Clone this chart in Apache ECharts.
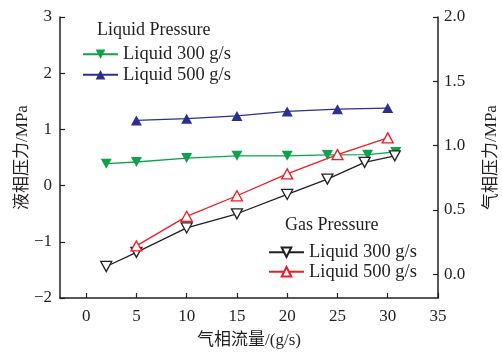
<!DOCTYPE html>
<html>
<head>
<meta charset="utf-8">
<script src="https://cdn.jsdelivr.net/npm/echarts@6/dist/echarts.min.js"></script>
<style>html,body{margin:0;padding:0;background:#fff}#c{width:502px;height:354px}</style>
</head>
<body>
<div id="c"></div>
<script>
// Liquid pressure (left axis, MPa)
const liq300X = [2, 5, 10, 15, 20, 24, 28, 30.8];
const liq300Y = [0.39, 0.42, 0.49, 0.53, 0.53, 0.545, 0.55, 0.60];
const liq500X = [5, 10, 15, 20, 25, 30];
const liq500Y = [1.16, 1.19, 1.24, 1.32, 1.36, 1.38];
// Gas pressure (right axis, MPa)
const gas300X = [2, 5, 10, 15, 20, 24, 27.7, 30.7];
const gas300Y = [0.06, 0.17, 0.36, 0.47, 0.62, 0.74, 0.87, 0.92];
const gas500X = [5, 10, 15, 20, 25, 30];
const gas500Y = [0.22, 0.45, 0.61, 0.78, 0.93, 1.06];
// Ticks
const xTicks = [0, 5, 10, 15, 20, 25, 30, 35];
const rightTicks = [0, 0.5, 1.0, 1.5, 2.0];
const seriesNames = ['Liquid 300 g/s', 'Liquid 500 g/s'];
const gasNames = ['Liquid 300 g/s ', 'Liquid 500 g/s '];

const pair = (xs, ys) => xs.map((x, i) => [x, ys[i]]);
const serif = '"Liberation Serif","Times New Roman","Noto Sans CJK SC",serif';
const axisColor = '#231f20';
const downTri = 'path://M0,0L10,0L5,9Z';
const upTri = 'path://M5,0L10,9L0,9Z';

const chart = echarts.init(document.getElementById('c'));
chart.setOption({
  animation: false,
  backgroundColor: '#fff',
  grid: { left: 60, right: 64, top: 17, bottom: 56, containLabel: false, outerBoundsMode: 'none' },
  xAxis: {
    type: 'value', min: -2.6, max: 35,
    name: '气相流量/(g/s)', nameLocation: 'middle', nameGap: 34,
    nameTextStyle: { fontFamily: serif, fontSize: 17, color: axisColor },
    axisLine: { onZero: false, lineStyle: { color: axisColor, width: 1.5 } },
    axisTick: { inside: true, length: 5, customValues: xTicks, lineStyle: { color: axisColor, width: 1.2 } },
    axisLabel: { customValues: xTicks, fontFamily: serif, fontSize: 17, color: axisColor, margin: 10 },
    splitLine: { show: false }
  },
  yAxis: [
    {
      type: 'value', min: -2, max: 3, interval: 1,
      name: '液相压力/MPa', nameLocation: 'middle', nameGap: 29, nameMoveOverlap: false,
      nameTextStyle: { fontFamily: serif, fontSize: 17, color: axisColor },
      axisLine: { show: true, onZero: false, lineStyle: { color: axisColor, width: 1.5 } },
      axisTick: { show: true, inside: true, length: 5, lineStyle: { color: axisColor, width: 1.2 } },
      axisLabel: { fontFamily: serif, fontSize: 17, color: axisColor, margin: 8,
        formatter: v => (v < 0 ? '\u2212' + Math.abs(v) : String(v)) },
      splitLine: { show: false }
    },
    {
      type: 'value', min: -0.185, max: 2.0, position: 'right',
      name: '气相压力/MPa', nameLocation: 'middle', nameGap: 45, nameMoveOverlap: false,
      nameTextStyle: { fontFamily: serif, fontSize: 17, color: axisColor },
      axisLine: { show: true, onZero: false, lineStyle: { color: axisColor, width: 1.5 } },
      axisTick: { show: true, inside: true, length: 5, customValues: rightTicks, lineStyle: { color: axisColor, width: 1.2 } },
      axisLabel: { customValues: rightTicks, fontFamily: serif, fontSize: 17, color: axisColor, margin: 6,
        formatter: v => v.toFixed(1) },
      splitLine: { show: false }
    }
  ],
  legend: [
    {
      data: seriesNames, orient: 'vertical', left: 82, top: 45, padding: 0,
      itemWidth: 35, itemHeight: 12, itemGap: 2,
      textStyle: { fontFamily: serif, fontSize: 18.5, color: axisColor }
    },
    {
      data: gasNames, orient: 'vertical', left: 268, top: 243, padding: 0,
      itemWidth: 35, itemHeight: 12, itemGap: 1,
      textStyle: { fontFamily: serif, fontSize: 18.5, color: axisColor }
    }
  ],
  graphic: [
    { type: 'text', left: 97, top: 21, style: { text: 'Liquid Pressure', font: '18px ' + serif, fill: axisColor } },
    { type: 'text', left: 285, top: 216, style: { text: 'Gas Pressure', font: '18px ' + serif, fill: axisColor } }
  ],
  series: [
    {
      name: seriesNames[0], type: 'line', yAxisIndex: 0, data: pair(liq300X, liq300Y),
      symbol: downTri, symbolSize: [11, 10],
      lineStyle: { color: '#0fa14b', width: 1.3 }, itemStyle: { color: '#0fa14b' }
    },
    {
      name: seriesNames[1], type: 'line', yAxisIndex: 0, data: pair(liq500X, liq500Y),
      symbol: upTri, symbolSize: [11, 10],
      lineStyle: { color: '#2b2f8f', width: 1.3 }, itemStyle: { color: '#2b2f8f' }
    },
    {
      name: gasNames[0], type: 'line', yAxisIndex: 1, data: pair(gas300X, gas300Y),
      symbol: downTri, symbolSize: [11, 10],
      lineStyle: { color: '#231f20', width: 1.3 }, itemStyle: { color: '#fff', borderColor: '#231f20', borderWidth: 1.3 }
    },
    {
      name: gasNames[1], type: 'line', yAxisIndex: 1, data: pair(gas500X, gas500Y),
      symbol: upTri, symbolSize: [11, 10],
      lineStyle: { color: '#ee1c25', width: 1.3 }, itemStyle: { color: '#fff', borderColor: '#ee1c25', borderWidth: 1.3 }
    }
  ]
});
</script>
</body>
</html>
